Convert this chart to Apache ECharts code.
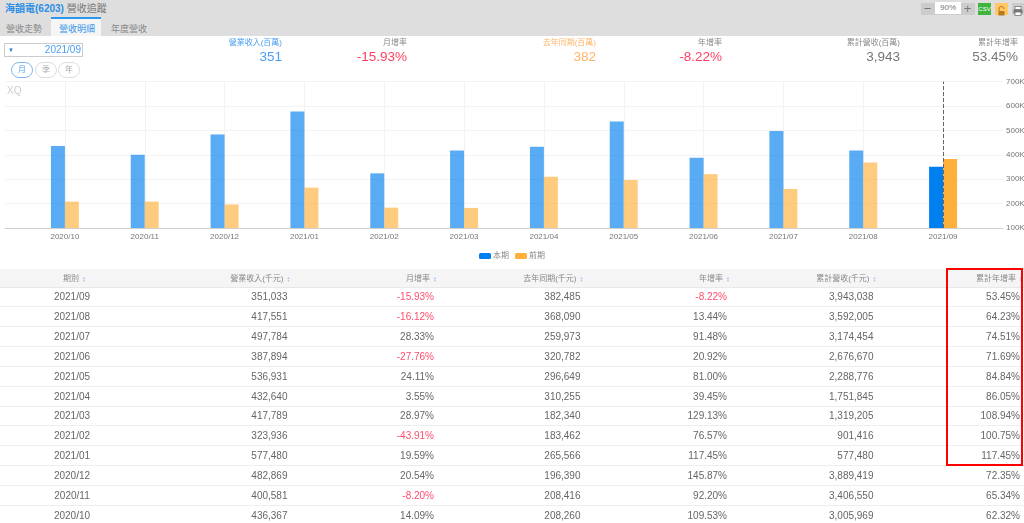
<!DOCTYPE html>
<html>
<head>
<meta charset="utf-8">
<script src="https://cdn.jsdelivr.net/npm/echarts@6/dist/echarts.min.js"></script>
<style>
html,body{margin:0;padding:0;width:1024px;height:523px;overflow:hidden;background:#fff;font-family:"Liberation Sans","Noto Sans CJK TC",sans-serif;color:#666}
#chart{position:absolute;left:0;top:0;width:1024px;height:523px}
.abs{position:absolute;white-space:nowrap}
.topbar{left:0;top:0;width:1024px;height:36px;background:#dedede}
.r{transform:translateX(-100%)}
.tab{font-size:9px;line-height:10px;color:#888;top:24px}
.btn{top:61.5px;width:20px;height:14px;border:1px solid #ddd;border-radius:8px;font-size:8px;line-height:14px;text-align:center;color:#aaa}
.tool{top:3px;width:13px;height:12px;text-align:center}
#tbl{position:absolute;left:0;top:269px;width:1024px;border-collapse:collapse;table-layout:fixed}
#tbl th{height:18px;padding:0 1px 0 0;background:#f5f5f5;font-weight:normal;font-size:8px;color:#888;text-align:right;border-bottom:1px solid #e8e8e8;box-sizing:border-box}
#tbl td{height:19.85px;padding:0 3px 0 0;font-size:10px;color:#666;text-align:right;border-bottom:1px solid #eee;box-sizing:border-box}
#tbl th:first-child,#tbl td:first-child{text-align:center;padding:0}
#tbl th:first-child{padding-left:4px}
#tbl td:last-child{padding-right:4px}
#tbl th:last-child{padding-right:2px}
#tbl td.neg{color:#ff4d6d}
.sort{display:inline-block;width:3px;margin-left:3px;font-size:4px;line-height:3px;color:#a9cdf0;vertical-align:middle}
</style>
</head>
<body>
<div id="chart"></div>

<div class="abs topbar"></div>
<div class="abs" style="left:5px;top:3px;font-size:10px;line-height:12px"><b style="color:#2a8de6">海韻電(6203)</b> <span style="color:#777">營收追蹤</span></div>
<div class="abs" style="left:51px;top:17px;width:50px;height:17px;background:#f5f5f5;border-top:2px solid #2a96ee"></div>
<div class="abs tab" style="left:6px">營收走勢</div>
<div class="abs tab" style="left:59px;color:#3a96ea">營收明細</div>
<div class="abs tab" style="left:111px">年度營收</div>

<div class="abs" style="left:921px;top:3px;width:54px;height:12px;background:#ccc"></div>
<div class="abs tool" style="left:921px;font-size:13px;line-height:11px;color:#777">−</div>
<div class="abs" style="left:935px;top:2px;width:26px;height:12px;background:#fff;font-size:8px;line-height:12px;text-align:center;color:#777">90%</div>
<div class="abs tool" style="left:961px;font-size:13px;line-height:11px;color:#777">+</div>
<div class="abs tool" style="left:978px;background:#3fb53f;color:#fff;font-size:6px;line-height:12px">CSV</div>
<div class="abs tool" style="left:995px;background:#ffc766"><svg width="13" height="12"><path d="M4 6V4a2.5 2.5 0 0 1 5 0" fill="none" stroke="#b8791a"/><rect x="3.5" y="6" width="6" height="4.5" fill="#b8791a"/></svg></div>
<div class="abs tool" style="left:1012px;width:12px;background:#ccc"><svg width="12" height="12"><rect x="3" y="1.5" width="6" height="3" fill="#fff" stroke="#777" stroke-width=".8"/><rect x="1.5" y="4.5" width="9" height="4" fill="#777"/><rect x="3" y="7" width="6" height="3.5" fill="#fff" stroke="#777" stroke-width=".8"/></svg></div>

<div class="abs" style="left:4px;top:43px;width:77px;height:12px;border:1px solid #ccc;box-sizing:content-box;font-size:10px;line-height:12px;color:#4a9ff0;text-align:right"><span style="position:absolute;left:3px;top:0;font-size:6px;color:#2a7fd6">▼</span><span style="padding-right:1px">2021/09</span></div>
<div class="abs btn" style="left:11px;border-color:#7db8f0;color:#4a9ff0">月</div>
<div class="abs btn" style="left:35px">季</div>
<div class="abs btn" style="left:58px">年</div>

<div id="summary"></div>
<div class="abs" style="left:7px;top:85px;font-size:10px;line-height:11px;color:#ccc">XQ</div>

<table id="tbl"><colgroup id="cols"></colgroup><thead><tr id="head"></tr></thead><tbody id="body"></tbody></table>
<div class="abs" style="left:946px;top:268px;width:77px;height:198px;border:2.5px solid #f00;box-sizing:border-box"></div>

<script>
// table rows, newest first
var periods = ['2021/09','2021/08','2021/07','2021/06','2021/05','2021/04','2021/03','2021/02','2021/01','2020/12','2020/11','2020/10'];
var revenue = [351033,417551,497784,387894,536931,432640,417789,323936,577480,482869,400581,436367];
var monthRate = [-15.93,-16.12,28.33,-27.76,24.11,3.55,28.97,-43.91,19.59,20.54,-8.20,14.09];
var lastYear = [382485,368090,259973,320782,296649,310255,182340,183462,265566,196390,208416,208260];
var yearRate = [-8.22,13.44,91.48,20.92,81.00,39.45,129.13,76.57,117.45,145.87,92.20,109.53];
var cumRevenue = [3943038,3592005,3174454,2676670,2288776,1751845,1319205,901416,577480,3889419,3406550,3005969];
var cumRate = [53.45,64.23,74.51,71.69,84.84,86.05,108.94,100.75,117.45,72.35,65.34,62.32];

var headers = ['期別','營業收入(千元)','月增率','去年同期(千元)','年增率','累計營收(千元)','累計年增率'];
var yTicks = {min:100000, max:700000, step:100000};

// summary block over the chart
var summary = [
  {label:'營業收入(百萬)', value:'351', right:282, color:'#4a9ff0'},
  {label:'月增率', value:'-15.93%', right:407, color:'#ff3f60', labelColor:'#888'},
  {label:'去年同期(百萬)', value:'382', right:596, color:'#ffb566'},
  {label:'年增率', value:'-8.22%', right:722, color:'#ff3f60', labelColor:'#888'},
  {label:'累計營收(百萬)', value:'3,943', right:900, color:'#777', labelColor:'#888'},
  {label:'累計年增率', value:'53.45%', right:1018, color:'#777', labelColor:'#888'}
];
document.getElementById('summary').innerHTML = summary.map(function(s){
  return '<div class="abs r" style="left:'+s.right+'px;top:37.5px;font-size:8px;line-height:10px;color:'+(s.labelColor||s.color)+'">'+s.label+'</div>'+
         '<div class="abs r" style="left:'+s.right+'px;top:48.5px;font-size:13.5px;line-height:16px;color:'+s.color+'">'+s.value+'</div>';
}).join('');

// table
var colWidths = [144,146.5,146.5,146.5,146.5,146.5,147.5];
document.getElementById('cols').innerHTML = colWidths.map(function(w){ return '<col style="width:'+w+'px">'; }).join('');
document.getElementById('head').innerHTML = headers.map(function(h){
  return '<th>'+h+'<span class="sort">▲<br>▼</span></th>';
}).join('');
function num(v){ return v.toLocaleString('en-US'); }
function pct(v){ return '<td'+(v<0?' class="neg"':'')+'>'+v.toFixed(2)+'%</td>'; }
document.getElementById('body').innerHTML = periods.map(function(p,i){
  return '<tr><td>'+p+'</td><td>'+num(revenue[i])+'</td>'+pct(monthRate[i])+'<td>'+num(lastYear[i])+'</td>'+pct(yearRate[i])+'<td>'+num(cumRevenue[i])+'</td><td>'+cumRate[i].toFixed(2)+'%</td></tr>';
}).join('');

// chart runs oldest to newest, last month is the highlighted one
var chartPeriods = periods.slice().reverse();
function barData(arr){
  return arr.slice().reverse().map(function(v,i){
    return {value:v, itemStyle:{opacity: i==arr.length-1 ? 1 : 0.65}};
  });
}

var myChart = echarts.init(document.getElementById('chart'));
myChart.setOption({
  animation:false,
  textStyle:{fontFamily:'"Liberation Sans","Noto Sans CJK TC",sans-serif'},
  legend:{
    left:474, top:247, itemWidth:12, itemHeight:6, itemGap:6,
    textStyle:{fontSize:8, color:'#888', padding:[0,0,0,-3]},
    data:['本期','前期']
  },
  grid:[
    {left:5, right:21, top:81.6, bottom:295, outerBoundsMode:'none'},
    {left:25, width:958, top:81.6, bottom:295, outerBoundsMode:'none'}
  ],
  xAxis:[
    {type:'value', gridIndex:0, min:0, max:1, axisLabel:{show:false}, axisTick:{show:false}, splitLine:{show:false},
     axisLine:{show:true, lineStyle:{color:'#d0d0d0'}}},
    {type:'category', gridIndex:1, data:chartPeriods, axisLine:{show:false}, axisTick:{show:false},
     axisLabel:{fontSize:8, color:'#777', margin:5, interval:0},
     splitLine:{show:true, alignWithLabel:true, interval:0, lineStyle:{color:'#f3f3f3'}}}
  ],
  yAxis:[
    {type:'value', gridIndex:0, position:'right', min:yTicks.min, max:yTicks.max, interval:yTicks.step,
     axisLine:{show:false}, axisTick:{show:false},
     axisLabel:{fontSize:8, color:'#777', margin:3, formatter:function(v){ return v/1000+'K'; }},
     splitLine:{lineStyle:{color:'#f3f3f3'}}},
    {type:'value', gridIndex:1, min:yTicks.min, max:yTicks.max, interval:yTicks.step, show:false, splitLine:{show:false}}
  ],
  series:[
    {name:'本期', type:'bar', xAxisIndex:1, yAxisIndex:1, barWidth:14, barGap:0, itemStyle:{color:'#0080ee'},
     data:barData(revenue)},
    {name:'前期', type:'bar', xAxisIndex:1, yAxisIndex:1, barWidth:14, barGap:0, itemStyle:{color:'#ffb03b'},
     data:barData(lastYear)},
    // hover marker on the selected month, sits on the band centre
    {name:'marker', type:'line', xAxisIndex:1, yAxisIndex:1, data:[], z:5,
     markLine:{silent:true, symbol:'none', label:{show:false}, animation:false,
       lineStyle:{type:'dashed', color:'#666', width:1}, data:[{xAxis:periods[0]}]}}
  ]
});
</script>
</body>
</html>
